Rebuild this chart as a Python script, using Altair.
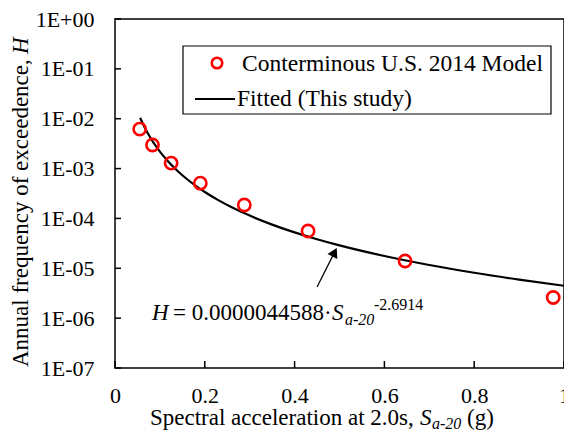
import json
import altair as alt
import pandas as pd

# ---------------- data ----------------
sa_model = [0.055, 0.0835, 0.125, 0.19, 0.288, 0.43, 0.646, 0.976]
h_model = [6.2e-3, 2.97e-3, 1.29e-3, 5.1e-4, 1.86e-4, 5.6e-5, 1.4e-5, 2.6e-6]

fit_coef = 0.0000044588
fit_exp = -2.6914
fit_sa = [0.056, 0.06, 0.065, 0.07, 0.075, 0.08, 0.09, 0.1, 0.11, 0.12, 0.14,
          0.16, 0.18, 0.2, 0.23, 0.26, 0.3, 0.35, 0.4, 0.45, 0.5, 0.6, 0.7,
          0.8, 0.9, 1.0]

x_ticks = [0, 0.2, 0.4, 0.6, 0.8, 1]
y_ticks = [1e-7, 1e-6, 1e-5, 1e-4, 1e-3, 1e-2, 1e-1, 1]
y_tick_labels = ["1E-07", "1E-06", "1E-05", "1E-04", "1E-03", "1E-02", "1E-01", "1E+00"]

legend_labels = ["Conterminous U.S. 2014 Model", "Fitted (This study)"]
x_title = ["Spectral acceleration at 2.0s, ", "S", "a-20", "(g)"]
y_title = ["Annual frequency of exceedence, ", "H"]
eq_parts = ["H", "= 0.0000044588\u00b7", "S", "a-20", "-2.6914"]

# arrow annotation (data coordinates): tail -> head
arrow_tail = (0.45, 4.2e-6)
arrow_head = (0.489, 2.1e-5)

# ---------------- chart ----------------
W, H = 449, 349
FONT = "Liberation Serif"
RED = "#ff0000"

xs = alt.Scale(domain=[0, 1], nice=False, zero=False)
ys = alt.Scale(type="log", domain=[1e-7, 1], nice=False)

xaxis = alt.Axis(values=x_ticks, format="~g", title=None, domain=False, ticks=False,
                 tickSize=0, grid=False, labelFont=FONT, labelFontSize=22,
                 labelColor="black", labelPadding=17, labelFlush=False,
                 labelOverlap=False)
yaxis = alt.Axis(values=y_ticks, title=None, domain=False, ticks=False, tickSize=0,
                 grid=False, labelFont=FONT, labelFontSize=22, labelColor="black",
                 labelPadding=21, labelFlush=False, labelOverlap=False,
                 labelExpr=json.dumps(y_tick_labels) + "[round(log(datum.value)/LN10) + 7]")

one = pd.DataFrame({"a": [0]})

df_model = pd.DataFrame({"sa": sa_model, "h": h_model})
df_fit = pd.DataFrame({"sa": fit_sa})

fit = alt.Chart(df_fit).transform_calculate(
    h=f"{fit_coef} * pow(datum.sa, {fit_exp})"
).mark_line(color="black", strokeWidth=2.2, interpolate="monotone").encode(
    x=alt.X("sa:Q", scale=xs, axis=xaxis),
    y=alt.Y("h:Q", scale=ys, axis=yaxis),
)

pts = alt.Chart(df_model).mark_point(
    shape="circle", size=150, color=RED, strokeWidth=2.6, filled=False, opacity=1
).encode(
    x=alt.X("sa:Q", scale=xs, axis=xaxis),
    y=alt.Y("h:Q", scale=ys, axis=yaxis),
)

ytk = alt.Chart(pd.DataFrame({"v": y_ticks})).mark_rule(color="black", strokeWidth=1.5).encode(
    y=alt.Y("v:Q", scale=ys, axis=yaxis), x=alt.value(0), x2=alt.value(6)
)
xtk = alt.Chart(pd.DataFrame({"v": x_ticks})).mark_rule(color="black", strokeWidth=1.5).encode(
    x=alt.X("v:Q", scale=xs, axis=xaxis), y=alt.value(H), y2=alt.value(H - 7)
)

df_arrow = pd.DataFrame({"x": [arrow_tail[0]], "y": [arrow_tail[1]],
                         "x2": [arrow_head[0]], "y2": [arrow_head[1]]})
arrow_line = alt.Chart(df_arrow).mark_rule(color="black", strokeWidth=1.3).encode(
    x=alt.X("x:Q", scale=xs, axis=xaxis), y=alt.Y("y:Q", scale=ys, axis=yaxis),
    x2="x2:Q", y2="y2:Q",
)
arrow_tip = alt.Chart(df_arrow).mark_point(
    shape="triangle-up", filled=True, size=120, angle=27, color="black", opacity=1
).encode(
    x=alt.X("x2:Q", scale=xs, axis=xaxis), y=alt.Y("y2:Q", scale=ys, axis=yaxis)
)

# legend
leg_box = alt.Chart(one).mark_rect(fill="white", stroke="black", strokeWidth=1.2).encode(
    x=alt.value(68), x2=alt.value(436), y=alt.value(27), y2=alt.value(95)
)
leg_pt = alt.Chart(one).mark_point(
    shape="circle", size=110, color=RED, strokeWidth=2.6, filled=False, opacity=1
).encode(x=alt.value(102), y=alt.value(44))
leg_line = alt.Chart(one).mark_rule(color="black", strokeWidth=2.2).encode(
    x=alt.value(80), x2=alt.value(120), y=alt.value(80)
)


def txt(s, x, y, size=23, style="normal", align="left", baseline="alphabetic", angle=0):
    kw = dict(text=s, font=FONT, fontSize=size, fontStyle=style, align=align,
              baseline=baseline, color="black")
    if angle:
        kw["angle"] = angle
    return alt.Chart(one).mark_text(**kw).encode(x=alt.value(x), y=alt.value(y))


leg_t1 = txt(legend_labels[0], 127, 52, size=23.5)
leg_t2 = txt(legend_labels[1], 122, 87, size=23.5)

# x-axis title
XT_Y = 406
xt1 = txt(x_title[0], 35, XT_Y)
xt2 = txt(x_title[1], 305, XT_Y, style="italic")
xt3 = txt(x_title[2], 317, XT_Y + 4, size=16, style="italic")
xt4 = txt(x_title[3], 352, XT_Y)

# y-axis title (rotated)
yt1 = txt(y_title[0], -87, 348, angle=270)
yt2 = txt(y_title[1], -87, 35, style="italic", angle=270)

# equation
EQ_Y = 301
e1 = txt(eq_parts[0], 37, EQ_Y, style="italic")
e2 = txt(eq_parts[1], 58, EQ_Y)
e3 = txt(eq_parts[2], 217, EQ_Y, style="italic")
e4 = txt(eq_parts[3], 230, EQ_Y + 5, size=16, style="italic")
e5 = txt(eq_parts[4], 259, EQ_Y - 10, size=16)

chart = alt.layer(
    ytk, xtk, fit, pts, arrow_line, arrow_tip,
    leg_box, leg_pt, leg_line, leg_t1, leg_t2,
    xt1, xt2, xt3, xt4, yt1, yt2, e1, e2, e3, e4, e5,
).properties(
    width=W, height=H,
    autosize=alt.AutoSizeParams(type="none"),
    padding={"left": 107, "top": 11, "right": 0, "bottom": 63},
    background="white",
).configure_view(stroke="black", strokeWidth=1.5)

chart.save("out.html", embed_options={"renderer": "svg", "actions": False})
